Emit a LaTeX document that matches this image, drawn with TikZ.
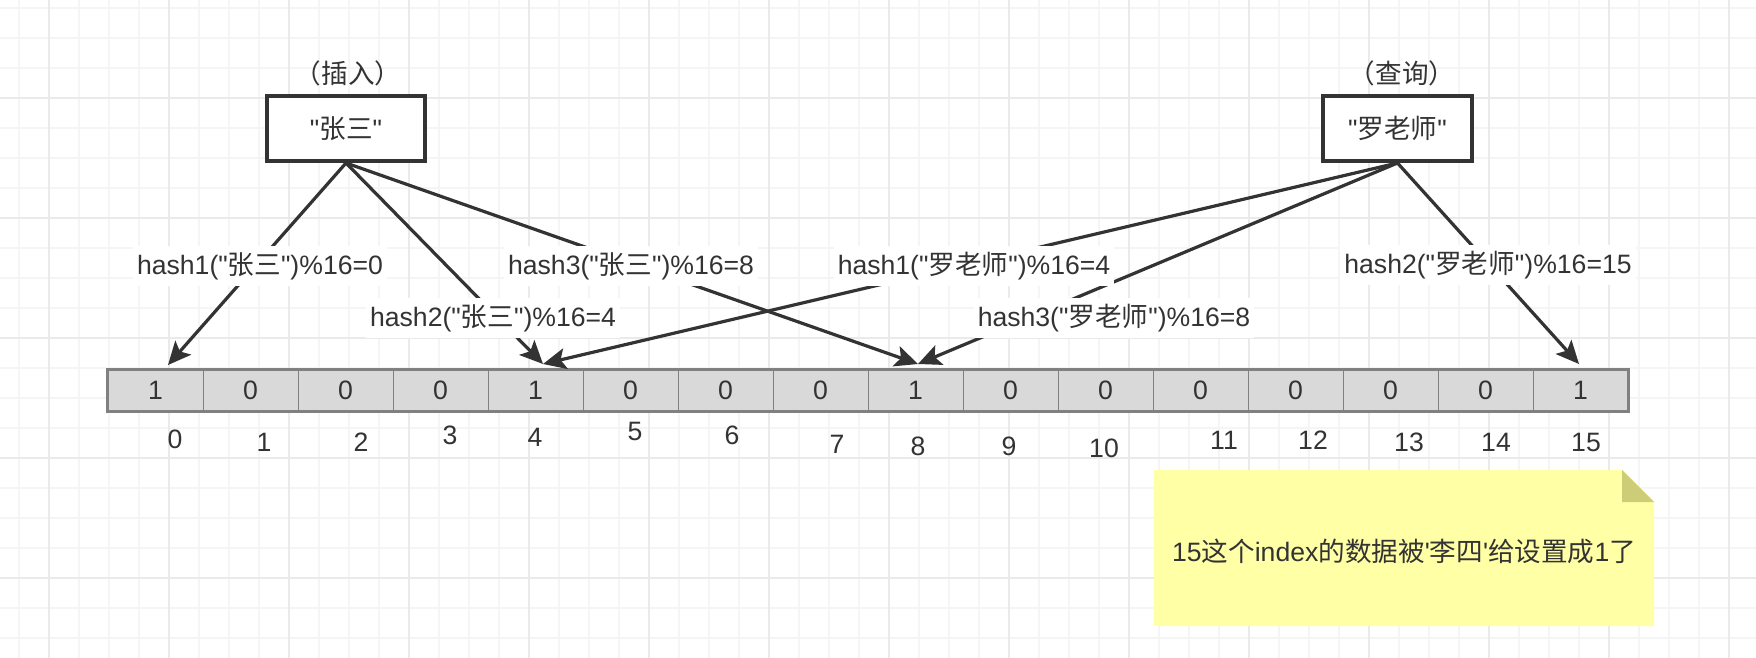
\documentclass[tikz,border=0pt]{standalone}
\usepackage{fontspec}
\setmainfont{Liberation Sans}[Ligatures=TeXOff]
\newfontfamily\cjk{Noto Sans CJK SC}
\usetikzlibrary{arrows.meta}
\definecolor{ink}{HTML}{333333}
\definecolor{gridminor}{HTML}{F5F5F5}
\definecolor{gridmajor}{HTML}{EAEAEA}
\definecolor{cellfill}{HTML}{D9D9D9}
\definecolor{cellline}{HTML}{808080}
\definecolor{notefill}{HTML}{FFFFA6}
\definecolor{notefold}{HTML}{CDCD78}
\tikzset{
  keybox/.style={draw=ink, line width=2pt, fill=white, minimum height=32.5pt, inner sep=0pt},
  cell/.style={draw=cellline, line width=0.5pt, fill=cellfill, minimum width=47.5pt, minimum height=20.5pt, inner sep=0pt},
  idx/.style={inner sep=0pt},
  lbl/.style={fill=white, inner xsep=2pt, inner ysep=3pt},
  arr/.style={draw=ink, line width=1.6pt, -{Stealth[length=11.5pt,width=10.5pt,inset=2.5pt]}},
}
\begin{document}
\begin{tikzpicture}[x=0.5pt,y=-0.5pt,font=\fontsize{13.3}{16}\selectfont,text=ink]
\useasboundingbox (0,0) rectangle (1756,658);
\fill[white] (0,0) rectangle (1756,658);
% grid
\foreach \x in {19,49,...,1759} \draw[gridminor,line width=0.8pt] (\x,0) -- (\x,658);
\foreach \y in {8,38,...,658} \draw[gridminor,line width=0.8pt] (0,\y) -- (1756,\y);
\foreach \x in {49,169,...,1729} \draw[gridmajor,line width=0.8pt] (\x,0) -- (\x,658);
\foreach \y in {98,218,...,578} \draw[gridmajor,line width=0.8pt] (0,\y) -- (1756,\y);

% key boxes
\node[keybox, minimum width=79pt] (zs) at (346,128.5) {"{\cjk 张三}"};
\node[keybox, minimum width=74.5pt] (lls) at (1397.5,128.5) {"{\cjk 罗老师}"};
\node (ins) at (348,73) {\cjk （插入）};
\node (qry) at (1402,73) {\cjk （查询）};

% bit array
\foreach \i/\v in {0/1,1/0,2/0,3/0,4/1,5/0,6/0,7/0,8/1,9/0,10/0,11/0,12/0,13/0,14/0,15/1}
  \node[cell] (c\i) at ({155.5+95*\i},390.5) {\v};
\draw[cellline, line width=1.6pt] (c0.north west) rectangle (c15.south east);

% indices
\foreach \i/\x/\y in {0/175/439,1/264/442,2/361/442,3/450/435,4/535/437,5/635/431,6/732/435,7/837/444,8/918/446,9/1009/446,10/1104/448,11/1224/440,12/1313/440,13/1409/442,14/1496/442,15/1586/442}
  \node[idx] (n\i) at (\x,\y) {\i};

% arrow tips
\coordinate (t0) at (168,365);
\coordinate (t4) at (543,364);
\coordinate (t8) at (918,364);
\coordinate (t15) at (1579,364);

\draw[arr] (zs.south) -- (t0);
\draw[arr] (zs.south) -- (t4);
\draw[arr] (zs.south) -- (t8);
\draw[arr] (lls.south) -- (t4);
\draw[arr] (lls.south) -- (t8);
\draw[arr] (lls.south) -- (t15);

% labels
\node[lbl] (l1) at (260,266) {hash1("{\cjk 张三}")\%16=0};
\node[lbl] (l2) at (493,318) {hash2("{\cjk 张三}")\%16=4};
\node[lbl] (l3) at (631,266) {hash3("{\cjk 张三}")\%16=8};
\node[lbl] (m1) at (974,266) {hash1("{\cjk 罗老师}")\%16=4};
\node[lbl] (m3) at (1114,318) {hash3("{\cjk 罗老师}")\%16=8};
\node[lbl] (m2) at (1488,265) {hash2("{\cjk 罗老师}")\%16=15};

% note
\fill[notefill] (1154,470) -- (1622,470) -- (1654,502) -- (1654,626) -- (1154,626) -- cycle;
\fill[notefold] (1622,470) -- (1654,502) -- (1622,502) -- cycle;
\node (note) at (1404,551) {15{\cjk 这个}index{\cjk 的数据被}'{\cjk 李四}'{\cjk 给设置成}1{\cjk 了}};
\end{tikzpicture}
\end{document}
